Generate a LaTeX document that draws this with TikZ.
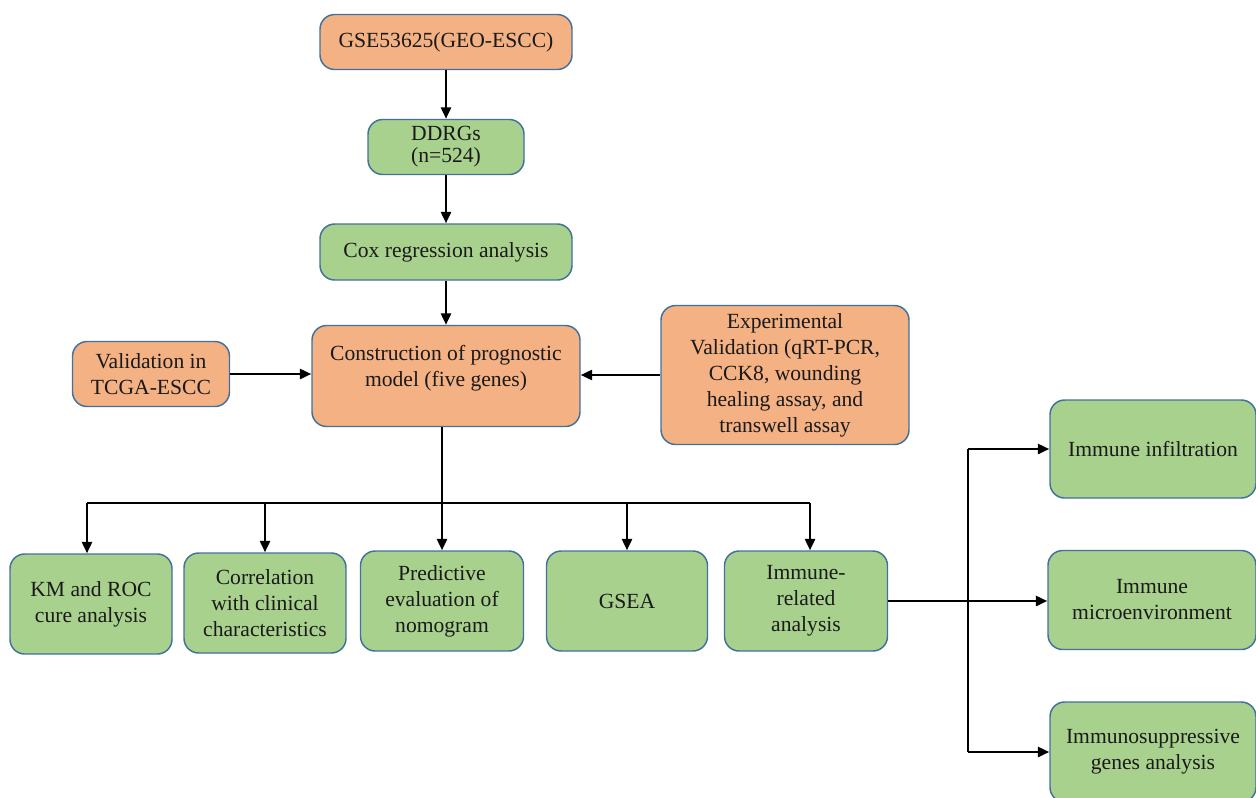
\documentclass[tikz,border=0pt]{standalone}
\usepackage{fontspec}
\setmainfont{Liberation Serif}
\usetikzlibrary{arrows.meta}
\definecolor{org}{HTML}{F4B183}
\definecolor{grn}{HTML}{A9D18E}
\definecolor{bdr}{HTML}{41719C}
\definecolor{txt}{HTML}{1A1A1A}
\begin{document}
\begin{tikzpicture}[x=0.75pt,y=-0.75pt,
  box/.style={draw=bdr, line width=1.1pt, rounded corners=11pt, align=center, inner sep=0pt,
    text=txt, font=\fontsize{16.2}{19.5}\selectfont},
  lbl/.style={align=center, inner sep=0pt, text=txt, font=\fontsize{16.2}{19.5}\selectfont},
  sz/.style 2 args={minimum width=#1*0.75pt, minimum height=#2*0.75pt},
  ln/.style={line width=1.8pt, black},
  arr/.style={ln, -{Triangle[length=8.5pt,width=7.5pt]}}]
\useasboundingbox (0,0) rectangle (1256,797);
\clip (0,0) rectangle (1256,797);
% top chain
\node[box,fill=org,sz={252}{55}] (gse) at (446,42) {GSE53625(GEO-ESCC)};
\node[box,fill=grn,sz={156}{55}] (ddrg) at (446,147) {DDRGs\\[-3pt](n=524)};
\node[box,fill=grn,sz={252}{56}] (cox) at (446,252) {Cox regression analysis};
\node[box,fill=org,sz={268}{101}] (con) at (446,376) {};
\node[lbl] (contxt) at (446,368) {Construction of prognostic\\model (five genes)};
\node[box,fill=org,sz={157}{65}] (val) at (151,374) {Validation in\\TCGA-ESCC};
\node[box,fill=org,sz={248}{139}] (exp) at (785,375) {Experimental\\Validation (qRT-PCR,\\CCK8, wounding\\healing assay, and\\transwell assay};
% bottom row
\node[box,fill=grn,sz={162}{100}] (km) at (91,604) {KM and ROC\\cure analysis};
\node[box,fill=grn,sz={162}{100}] (cor) at (265,603) {Correlation\\with clinical\\characteristics};
\node[box,fill=grn,sz={163}{100}] (pred) at (442,601) {Predictive\\evaluation of\\nomogram};
\node[box,fill=grn,sz={161}{100}] (gsea) at (627,601) {GSEA};
\node[box,fill=grn,sz={163}{100}] (imm) at (806,601) {Immune-\\related\\analysis};
% right column
\node[box,fill=grn,sz={206}{98}] (inf) at (1153,449) {Immune infiltration};
\node[box,fill=grn,sz={208}{99}] (mic) at (1152,600) {Immune\\microenvironment};
\node[box,fill=grn,sz={206}{100}] (sup) at (1153,752) {Immunosuppressive\\genes analysis};
% connectors
\draw[arr] (gse) -- (ddrg);
\draw[arr] (ddrg) -- (cox);
\draw[arr] (cox) -- (con);
\draw[arr] (val.east) -- (val.east -| con.west);
\draw[arr] (exp.west) -- (exp.west -| con.east);
\coordinate (busL) at (87,503);
\coordinate (busR) at (810,503);
\draw[ln] (busL) -- (busR);
\draw[arr] (con.south -| pred.north) -- (pred.north);
\draw[arr] (busL) -- (busL |- km.north);
\draw[arr] (cor.north |- busL) -- (cor.north);
\draw[arr] (gsea.north |- busL) -- (gsea.north);
\draw[arr] (busR) -- (busR |- imm.north);
\coordinate (jt) at (968,0);
\draw[arr] (imm.east) -- (imm.east -| mic.west);
\draw[ln] (jt |- inf.west) -- (jt |- sup.west);
\draw[arr] (jt |- inf.west) -- (inf.west);
\draw[arr] (jt |- sup.west) -- (sup.west);
\end{tikzpicture}
\end{document}
